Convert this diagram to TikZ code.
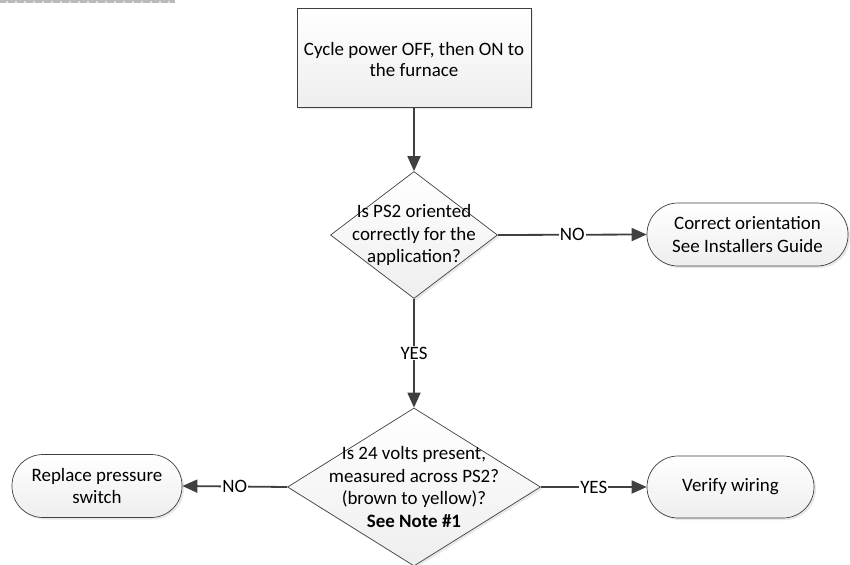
\documentclass[tikz,border=0pt]{standalone}
\usepackage{fontspec}
\setmainfont{Carlito}
\usetikzlibrary{shapes.geometric,arrows.meta,shadows}
\definecolor{lineC}{HTML}{404040}
\definecolor{fillC}{HTML}{EEEEEE}
\begin{document}
\begin{tikzpicture}[x=1bp,y=-1bp,
  txt/.style={font=\fontsize{19}{22.5}\selectfont, align=center, text=black},
  shad/.style={drop shadow={opacity=0.18, shadow xshift=2bp, shadow yshift=-2bp}},
  shfill/.style={top color=white, bottom color=fillC},
  procbox/.style={draw=lineC, line width=0.7bp, shfill, shad, minimum width=234bp, minimum height=99bp, inner sep=0pt},
  decis/.style={diamond, draw=lineC, line width=0.7bp, shfill, shad, inner sep=0pt},
  term/.style={draw=lineC, line width=0.7bp, shfill, shad, rounded corners=31bp, inner sep=0pt},
  conn/.style={draw=lineC, line width=1.8bp, -{Triangle[length=15bp,width=13bp]}},
  lab/.style={font=\fontsize{19}{22}\selectfont, fill=white, inner sep=1bp, text=black}
]
\useasboundingbox (0,0) rectangle (850,565);
% top-left bar
\fill[gray!55] (0,0) rectangle (175,3);
\foreach \i in {0,9,...,170} {\fill[gray!25] (\i+6,1) rectangle (\i+8,3);}

\node[procbox] (box) at (414,57.5) {};
\node[txt, font=\fontsize{19}{20.5}\selectfont] at ([yshift=-2bp]box.center) {Cycle power OFF, then ON to\\the furnace};

\node[decis, minimum width=167bp, minimum height=127bp] (d1) at (414,235) {};
\node[txt] at (d1.center) {Is PS2 oriented\\correctly for the\\application?};

\node[term, minimum width=201bp, minimum height=63bp] (t1) at (747.5,234.5) {};
\node[txt] at (t1.center) {Correct orientation\\See Installers Guide};

\node[decis, minimum width=253bp, minimum height=158bp] (d2) at (414,487) {};
\node[txt] at (d2.center) {Is 24 volts present,\\measured across PS2?\\(brown to yellow)?\\\textbf{See Note \#1}};

\node[term, minimum width=170bp, minimum height=63bp] (t2) at (97,486) {};
\node[txt] at (t2.center) {Replace pressure\\switch};

\node[term, minimum width=167bp, minimum height=62bp] (t3) at (730.5,487) {};
\node[txt] at (t3.center) {Verify wiring};

\draw[conn] (box.south) -- (d1.north);
\draw[conn] (d1.east) -- node[lab] {NO} (t1.west);
\draw[conn] (d1.south) -- node[lab] {YES} (d2.north);
\draw[conn] (d2.west) -- node[lab] {NO} (t2.east);
\draw[conn] (d2.east) -- node[lab] {YES} (t3.west);
\end{tikzpicture}
\end{document}
